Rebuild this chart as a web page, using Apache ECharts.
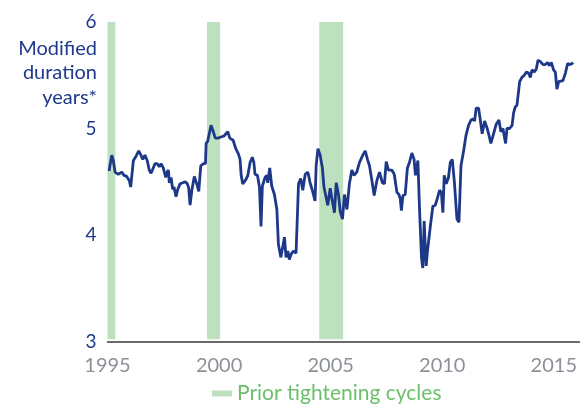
<!DOCTYPE html>
<html>
<head>
<meta charset="utf-8">
<style>html,body{margin:0;padding:0;background:#fff}#c{width:580px;height:406px}</style>
<script src="https://cdn.jsdelivr.net/npm/echarts@6/dist/echarts.min.js"></script>
</head>
<body>
<div id="c"></div>
<script>
const years = [
1995.07,1995.19,1995.26,1995.34,1995.48,1995.56,1995.64,1995.74,1995.86,1995.98,
1996.04,1996.11,1996.16,1996.28,1996.40,1996.50,1996.58,1996.68,1996.78,1996.87,
1996.95,1997.03,1997.13,1997.23,1997.32,1997.40,1997.50,1997.61,1997.65,1997.73,
1997.77,1997.85,1997.92,1997.98,1998.07,1998.15,1998.25,1998.37,1998.48,1998.58,
1998.64,1998.70,1998.78,1998.89,1999.00,1999.09,1999.18,1999.30,1999.39,1999.42,
1999.49,1999.64,1999.74,1999.83,1999.97,2000.08,2000.22,2000.39,2000.48,2000.63,
2000.75,2000.87,2000.94,2000.99,2001.06,2001.20,2001.29,2001.39,2001.49,2001.56,
2001.61,2001.72,2001.81,2001.88,2001.94,2002.06,2002.14,2002.18,2002.27,2002.36,
2002.48,2002.59,2002.66,2002.77,2002.84,2002.93,2003.00,2003.08,2003.15,2003.23,
2003.33,2003.45,2003.56,2003.66,2003.75,2003.86,2003.98,2004.08,2004.18,2004.30,
2004.35,2004.43,2004.53,2004.63,2004.70,2004.78,2004.87,2004.98,2005.05,2005.17,
2005.25,2005.35,2005.43,2005.53,2005.62,2005.73,2005.84,2005.95,2006.05,2006.17,
2006.29,2006.44,2006.55,2006.65,2006.74,2006.85,2006.95,2007.07,2007.19,2007.25,
2007.32,2007.41,2007.49,2007.59,2007.74,2007.85,2007.97,2008.06,2008.12,2008.17,
2008.24,2008.34,2008.44,2008.53,2008.64,2008.74,2008.80,2008.91,2008.98,2009.07,
2009.13,2009.19,2009.28,2009.34,2009.46,2009.58,2009.69,2009.79,2009.88,2009.96,
2010.03,2010.09,2010.18,2010.28,2010.36,2010.45,2010.54,2010.66,2010.75,2010.84,
2010.96,2011.06,2011.18,2011.29,2011.38,2011.45,2011.52,2011.63,2011.70,2011.79,
2011.90,2012.00,2012.08,2012.18,2012.30,2012.42,2012.54,2012.63,2012.72,2012.78,
2012.84,2012.90,2013.02,2013.13,2013.20,2013.27,2013.35,2013.39,2013.47,2013.57,
2013.68,2013.77,2013.87,2013.95,2014.02,2014.13,2014.22,2014.29,2014.39,2014.52,
2014.62,2014.72,2014.81,2014.89,2014.99,2015.07,2015.14,2015.22,2015.29,2015.41,
2015.52,2015.62,2015.71,2015.82,2015.86
];
const duration = [
4.60,4.75,4.70,4.59,4.57,4.56,4.59,4.56,4.55,4.51,
4.45,4.45,4.70,4.74,4.79,4.75,4.71,4.75,4.70,4.61,
4.58,4.62,4.67,4.67,4.64,4.67,4.63,4.54,4.58,4.61,
4.49,4.54,4.43,4.45,4.36,4.43,4.48,4.49,4.50,4.48,
4.44,4.28,4.42,4.55,4.48,4.41,4.65,4.67,4.67,4.86,
4.88,5.03,4.97,4.91,4.91,4.92,4.93,4.97,4.91,4.89,
4.81,4.76,4.71,4.56,4.48,4.52,4.56,4.68,4.73,4.68,
4.57,4.56,4.45,4.08,4.46,4.54,4.56,4.49,4.63,4.46,
4.38,4.24,3.91,3.79,3.79,3.98,3.79,3.85,3.77,3.82,
3.85,3.83,4.48,4.53,4.42,4.57,4.59,4.49,4.42,4.32,
4.65,4.81,4.75,4.63,4.45,4.44,4.28,4.44,4.35,4.21,
4.49,4.38,4.22,4.15,4.38,4.24,4.48,4.61,4.56,4.59,
4.68,4.75,4.79,4.71,4.65,4.51,4.37,4.51,4.59,4.59,
4.49,4.48,4.69,4.61,4.61,4.57,4.40,4.38,4.34,4.23,
4.37,4.38,4.63,4.68,4.77,4.71,4.56,4.70,4.26,3.79,
3.69,4.13,3.71,3.85,4.07,4.27,4.28,4.35,4.42,4.40,
4.21,4.56,4.48,4.54,4.68,4.71,4.51,4.15,4.12,4.65,
4.79,4.93,5.03,5.08,5.09,5.07,5.19,5.19,5.09,4.95,
5.07,5.01,4.95,4.86,4.95,5.04,5.08,4.97,5.00,4.93,
4.86,5.00,5.00,5.03,5.15,5.20,5.22,5.23,5.44,5.48,
5.50,5.53,5.52,5.48,5.55,5.53,5.56,5.64,5.63,5.60,
5.60,5.62,5.59,5.62,5.55,5.53,5.37,5.44,5.45,5.45,
5.52,5.61,5.60,5.61,5.62
];
const cycleStart = [1995.0, 1999.46, 2004.49];
const cycleEnd = [1995.35, 2000.05, 2005.56];
const cycleLow = 3.02, cycleHigh = 6.03;
const yTitle = "Modified\nduration\nyears*";
const legendName = "Prior tightening cycles";

const FONT = "Lato, 'Open Sans', sans-serif";
const NAVY = "#1f3a8c";
const chart = echarts.init(document.getElementById('c'));
chart.setOption({
  animation: false,
  grid: { left: 107.5, right: 0.5, top: 22, bottom: 64.5, containLabel: false },
  xAxis: {
    type: 'value', min: 1995, max: 2016.15, interval: 5,
    axisLine: { show: true, lineStyle: { color: '#3a3a3a', width: 1.5 } },
    axisTick: { show: false },
    splitLine: { show: false },
    axisLabel: {
      color: '#8c9098', fontSize: 20, fontFamily: FONT, margin: 14,
      showMaxLabel: false,
      formatter: v => (Math.abs(v % 5) < 1e-6 ? String(v) : '')
    }
  },
  yAxis: {
    type: 'value', min: 3, max: 6, interval: 1,
    axisLine: { show: false }, axisTick: { show: false }, splitLine: { show: false },
    axisLabel: { color: NAVY, fontSize: 19, fontFamily: FONT, margin: 11 }
  },
  legend: {
    data: [legendName], left: 207, top: 378, icon: 'rect',
    itemWidth: 20, itemHeight: 6, itemGap: 10,
    textStyle: { color: '#6cbf6c', fontSize: 21, fontFamily: FONT }
  },
  graphic: [{
    type: 'text', right: 483, top: 36,
    style: { text: yTitle, fill: NAVY, font: "20px " + FONT, textAlign: 'right', lineHeight: 24.5 }
  }],
  series: [
    {
      name: legendName, type: 'line', data: [], clip: false,
      itemStyle: { color: '#bde0bf' }, lineStyle: { color: '#bde0bf' },
      markArea: {
        silent: true,
        itemStyle: { color: '#bde0bf' },
        data: cycleStart.map((s, i) => [{ coord: [s, cycleLow] }, { coord: [cycleEnd[i], cycleHigh] }])
      }
    },
    {
      name: 'Duration', type: 'line', showSymbol: false, symbol: 'none',
      data: years.map((y, i) => [y, duration[i]]),
      lineStyle: { color: '#1d3889', width: 2.8 },
      z: 3
    }
  ]
});
</script>
</body>
</html>
